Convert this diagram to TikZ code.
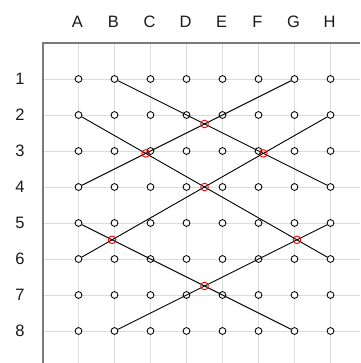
\documentclass[tikz,border=0pt]{standalone}
\usepackage{fontspec}
\setmainfont{Liberation Sans}
\usepackage{xcolor}
\definecolor{gridgray}{HTML}{DCDCDC}
\definecolor{framegray}{HTML}{7A7A7A}
\definecolor{textdark}{HTML}{1A1A1A}
\tikzset{
  gridline/.style={gridgray,line width=0.9pt},
  frameline/.style={framegray,line width=1.6pt},
  point/.style={circle,draw=black,fill=white,line width=0.85pt,inner sep=0pt,minimum size=6.8pt},
  redpoint/.style={circle,draw=red,line width=0.9pt,inner sep=0pt,minimum size=7.6pt},
  crossline/.style={black,line width=0.9pt},
  headtext/.style={textdark,font=\fontsize{16.5}{19}\selectfont,inner sep=0pt}
}
\begin{document}
\begin{tikzpicture}[x=1pt,y=-1pt]
  \useasboundingbox (0,0) rectangle (360,363);
  % grid and frame
  \foreach \i in {1,...,8} {
    \draw[gridline] (43,{43+36*\i}) -- (360,{43+36*\i});
    \draw[gridline] ({42.5+36*\i},43) -- ({42.5+36*\i},363);
  }
  \draw[frameline] (43,363) -- (43,43) -- (360,43);
  % headings
  \foreach \c [count=\i] in {A,B,C,D,E,F,G,H}
    \node[headtext] (col\c) at ({41.5+36*\i},22) {\c};
  \foreach \r in {1,...,8}
    \node[headtext] (row\r) at (20,{43+36*\r}) {\r};
  % points
  \foreach \c [count=\i] in {A,B,C,D,E,F,G,H}
    \foreach \r in {1,...,8}
      \node[point] (\c\r) at ({42.5+36*\i},{43+36*\r}) {};
  % lines
  \draw[crossline] (B1) -- (H4);
  \draw[crossline] (G1) -- (A4);
  \draw[crossline] (A2) -- (H6);
  \draw[crossline] (H2) -- (A6);
  \draw[crossline] (A5) -- (G8);
  \draw[crossline] (B8) -- (H5);
  % crossings
  \node[redpoint] (x1) at (intersection of B1--H4 and G1--A4) {};
  \node[redpoint] (x2) at (intersection of A2--H6 and G1--A4) {};
  \node[redpoint] (x3) at (intersection of B1--H4 and H2--A6) {};
  \node[redpoint] (x4) at (intersection of A2--H6 and H2--A6) {};
  \node[redpoint] (x5) at (intersection of H2--A6 and A5--G8) {};
  \node[redpoint] (x6) at (intersection of A2--H6 and B8--H5) {};
  \node[redpoint] (x7) at (intersection of A5--G8 and B8--H5) {};
\end{tikzpicture}
\end{document}
